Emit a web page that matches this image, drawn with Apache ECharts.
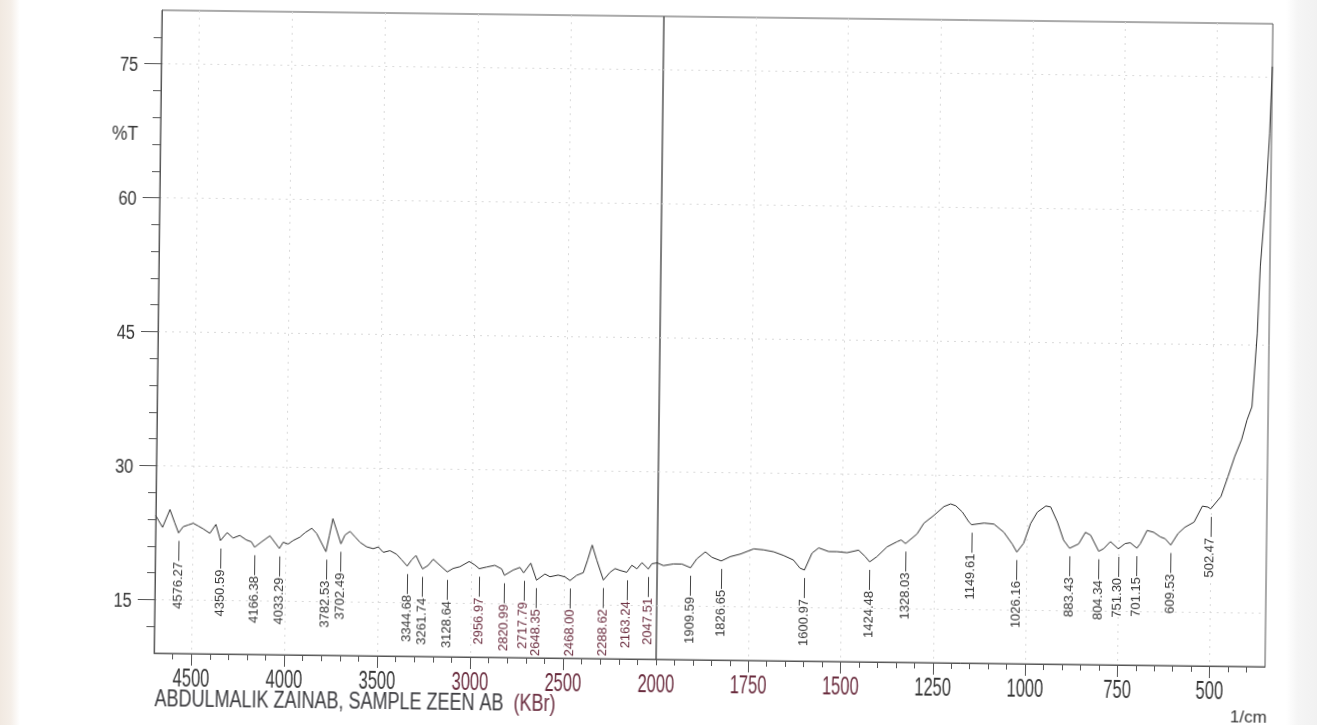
<!DOCTYPE html>
<html>
<head>
<meta charset="utf-8">
<title>FTIR spectrum</title>
<script src="https://cdn.jsdelivr.net/npm/echarts@6/dist/echarts.min.js"></script>
<style>
  html, body {
    margin: 0; padding: 0; width: 1317px; height: 725px; overflow: hidden;
    background: linear-gradient(to right, #f1e9e1 0px, #f5efe9 11px, #ffffff 20px, #ffffff 1286px, #f5f5f5 1298px, #f1f1f1 1317px);
  }
  /* the printed sheet sits slightly askew on the scanner bed */
  #chart {
    position: absolute; left: 0; top: 0; width: 1317px; height: 725px;
    transform: rotate(0.7deg); transform-origin: 714.5px 338px;
  }
</style>
</head>
<body>
<div id="chart"></div>
<script>
// Spectrum: wavenumber (1/cm) and transmittance (%T), high to low wavenumber
const wavenumber = [
  4700, 4663, 4624, 4597, 4576.27, 4552, 4525, 4498, 4471, 4445, 4408, 4376, 4350.59,
  4315, 4283, 4247, 4211, 4184, 4166.38, 4130, 4085, 4033.29, 4013, 3986, 3960, 3923,
  3896, 3860, 3833, 3782.53, 3765, 3747, 3726, 3702.49, 3681, 3654, 3627, 3600, 3564,
  3528, 3501, 3474, 3438, 3402, 3375, 3344.68, 3321, 3298, 3277, 3261.74, 3232, 3205,
  3178, 3151, 3128.64, 3097, 3061, 3011, 2980, 2956.97, 2917, 2873, 2836, 2820.99,
  2774, 2738, 2717.79, 2680, 2648.35, 2603, 2576, 2532, 2495, 2468, 2432, 2397, 2375,
  2351, 2325, 2288.62, 2252, 2226, 2199, 2163.24, 2136, 2109, 2082, 2047.51, 2028, 2000,
  1983, 1956, 1933, 1909.59, 1893, 1870, 1852, 1826.65, 1802, 1775, 1739, 1712, 1685,
  1658, 1631, 1613, 1600.97, 1581, 1563, 1536, 1513, 1486, 1455, 1437, 1424.48, 1405,
  1378, 1351, 1340, 1328.03, 1297, 1279, 1252, 1225, 1207, 1193, 1175, 1157, 1149.61,
  1116, 1089, 1062, 1039, 1026.16, 1008, 990, 972, 949, 936, 917, 900, 883.43, 859, 841,
  827, 804.34, 791, 773, 751.3, 733, 719, 701.15, 692, 674, 656, 638, 625, 609.53, 590,
  572, 547, 525, 510, 502.47, 475, 457, 439, 421, 407, 394, 382, 376, 364, 355, 350
];
const percentT = [
  24.4, 23.1, 25.1, 23.6, 22.5, 23.2, 23.4, 23.6, 23.3, 23.0, 22.5, 23.5, 21.7,
  22.6, 22.0, 22.3, 21.8, 21.6, 21.0, 21.6, 22.3, 20.9, 21.6, 21.4, 21.8, 22.2,
  22.7, 23.2, 22.6, 20.6, 22.4, 24.3, 23.0, 21.5, 22.5, 22.9, 22.3, 21.7, 21.2,
  21.0, 21.2, 20.6, 20.8, 20.4, 19.8, 19.1, 19.8, 20.3, 19.4, 18.8, 19.2, 19.9,
  19.4, 18.9, 18.5, 18.9, 19.1, 19.7, 19.3, 18.9, 19.1, 19.3, 18.9, 18.2,
  18.8, 19.1, 18.5, 19.6, 17.7, 18.4, 18.1, 18.3, 18.1, 17.7, 18.3, 18.6, 20.0,
  21.7, 20.0, 17.8, 18.7, 19.1, 18.9, 18.7, 19.5, 19.1, 19.8, 19.1, 19.7, 19.8,
  19.5, 19.7, 19.7, 19.3, 20.3, 21.1, 20.5, 20.1, 20.6, 20.9, 21.5, 21.4, 21.2,
  20.8, 20.3, 19.4, 19.2, 21.1, 21.7, 21.3, 21.3, 21.2, 21.5, 20.8, 20.2, 20.8,
  21.9, 22.5, 22.7, 22.3, 23.4, 24.6, 25.5, 26.5, 26.8, 26.6, 25.9, 24.8, 24.5,
  24.7, 24.6, 23.7, 22.4, 21.5, 22.5, 24.7, 26.0, 26.7, 26.6, 24.9, 22.9, 22.0, 22.5, 23.8,
  23.5, 21.7, 22.0, 22.8, 22.0, 22.6, 22.7, 22.1, 22.6, 24.1, 23.9, 23.4, 23.2, 22.5, 23.8,
  24.5, 25.1, 26.9, 26.8, 26.6, 28.0, 30.2, 32.5, 34.4, 36.6, 38.1, 46.3, 53.8, 61.2, 68.7, 76.2
];

// Peak picks printed under the trace
const peakLabels = [
  '4576.27', '4350.59', '4166.38', '4033.29', '3782.53', '3702.49', '3344.68', '3261.74',
  '3128.64', '2956.97', '2820.99', '2717.79', '2648.35', '2468.00', '2288.62', '2163.24',
  '2047.51', '1909.59', '1826.65', '1600.97', '1424.48', '1328.03', '1149.61', '1026.16',
  '883.43', '804.34', '751.30', '701.15', '609.53', '502.47'
];

// Axis labels: the scale changes from 500 to 250 per division at 2000 1/cm
const leftAxisLabels = [2000, 2500, 3000, 3500, 4000, 4500];
const rightAxisLabels = [500, 750, 1000, 1250, 1500, 1750];
const yAxisLabels = [15, 30, 45, 60, 75];

const sampleName = 'ABDULMALIK ZAINAB, SAMPLE ZEEN AB';
const matrixName = '(KBr)';
const yUnit = '%T';
const xUnit = '1/cm';

// ---- layout and styling ----
const WN_MAX = 4700, WN_SPLIT = 2000, WN_MIN = 350;
const T_MIN = 9, T_MAX = 81;
const GRID_TOP = 17, GRID_H = 643;
const LEFT_X = 158, SPLIT_X = 660, RIGHT_X = 1269;

const PLAIN = '"Liberation Sans", Arial, sans-serif';
const INK = '#353535';
const MAROON = '#6a2c3e';
const AXIS = '#555555';
const TRACE = '#2e2e2e';
const FAINT = '#dadada';
// the plotter's lettering is tall and narrow
const TALL_X = 1.55, TALL_Y = 1.28;

function steps(from, to, step, skip) {
  const out = [];
  for (let v = from; v <= to + 1e-9; v += step) if (!skip(v)) out.push(v);
  return out;
}
const leftMinor = steps(2000, 4600, 100, v => v % 500 === 0 && v !== 2000);
const leftMajor = leftAxisLabels.filter(v => v !== WN_SPLIT);
const rightMinor = steps(400, 1950, 50, v => v % 250 === 0);
const yMinor = steps(12, 78, 3, v => v % 15 === 0);

const midBand = v => v <= 3000 && v >= 1500;
const peakInk = w => (w >= 2000 && w <= 2960) ? MAROON : INK;

const points = wavenumber.map((w, i) => [w, percentT[i]]);
const leftPts = points.filter(p => p[0] >= WN_SPLIT);
const rightPts = points.filter(p => p[0] <= WN_SPLIT);

const peakItems = peakLabels.map((s, i) => {
  const w = parseFloat(s);
  const k = wavenumber.findIndex(x => Math.abs(x - w) < 1e-6);
  return [w, percentT[k], i];
});
const leftPeaks = peakItems.filter(p => p[0] > WN_SPLIT);
const rightPeaks = peakItems.filter(p => p[0] < WN_SPLIT);

function xAxes(gridIndex, min, max, minor, major) {
  const base = { type: 'value', gridIndex, min, max, inverse: true, position: 'bottom' };
  return [
    Object.assign({}, base, {
      axisLine: { show: true, onZero: false, lineStyle: { color: AXIS, width: 1 } },
      axisTick: { show: true, customValues: minor, length: 6, lineStyle: { color: AXIS } },
      axisLabel: { show: false },
      splitLine: { show: false }
    }),
    Object.assign({}, base, {
      axisLine: { show: false, onZero: false },
      axisTick: { show: true, customValues: major, length: 12, lineStyle: { color: AXIS } },
      axisLabel: { show: false },
      splitLine: { show: true, lineStyle: { color: FAINT, type: [2, 5], width: 1 } }
    })
  ];
}

const yBase = { type: 'value', min: T_MIN, max: T_MAX, position: 'left' };
const yAxes = [
  Object.assign({}, yBase, {
    gridIndex: 0,
    axisLine: { show: true, onZero: false, lineStyle: { color: AXIS, width: 1 } },
    axisTick: { show: true, customValues: yMinor, length: 8, lineStyle: { color: AXIS } },
    axisLabel: { show: false },
    splitLine: { show: false }
  }),
  Object.assign({}, yBase, {
    gridIndex: 0,
    axisLine: { show: false, onZero: false },
    axisTick: { show: true, customValues: yAxisLabels, length: 17, lineStyle: { color: AXIS } },
    axisLabel: { show: false },
    splitLine: { show: true, lineStyle: { color: FAINT, type: [2, 5], width: 1 } }
  }),
  Object.assign({}, yBase, {
    gridIndex: 1,
    axisLine: { show: false, onZero: false },
    axisTick: { show: false, customValues: yAxisLabels },
    axisLabel: { show: false },
    splitLine: { show: true, lineStyle: { color: FAINT, type: [2, 5], width: 1 } }
  })
];

function traceSeries(xi, yi, data) {
  return {
    type: 'line', xAxisIndex: xi, yAxisIndex: yi, data,
    symbol: 'none', showSymbol: false, silent: true, z: 3,
    lineStyle: { color: TRACE, width: 1 }
  };
}

// leader line below each picked band, then the wavenumber printed upright
function peakSeries(xi, yi, data) {
  return {
    type: 'custom', xAxisIndex: xi, yAxisIndex: yi, data, clip: false, silent: true, z: 4,
    renderItem: (params, api) => {
      const w = api.value(0);
      const p = api.coord([w, api.value(1)]);
      const x = Math.round(p[0]) + 0.5;
      const y0 = p[1] + 8;
      const y1 = p[1] + 28;
      return {
        type: 'group',
        children: [
          { type: 'line', shape: { x1: x, y1: y0, x2: x, y2: y1 }, style: { stroke: '#444', lineWidth: 1 } },
          {
            type: 'text', x: p[0], y: y1 + 1, rotation: Math.PI / 2,
            style: {
              text: peakLabels[api.value(2)], fill: peakInk(w),
              font: '13px ' + PLAIN, align: 'right', verticalAlign: 'middle'
            }
          }
        ]
      };
    }
  };
}

// wavenumber tick labels, placed through the x scale below the axis
function xLabelSeries(xi, yi, values) {
  return {
    type: 'custom', xAxisIndex: xi, yAxisIndex: yi, clip: false, silent: true, z: 4,
    data: values.map(v => [v, T_MIN]),
    renderItem: (params, api) => {
      const v = api.value(0);
      const p = api.coord([v, api.value(1)]);
      return {
        type: 'text', x: p[0], y: p[1] + 26, scaleY: TALL_X,
        style: { text: String(v), fill: midBand(v) ? MAROON : INK, font: '16.5px ' + PLAIN, align: 'center', verticalAlign: 'middle' }
      };
    }
  };
}

// %T tick labels, placed through the y scale left of the axis
function yLabelSeries(values) {
  return {
    type: 'custom', xAxisIndex: 0, yAxisIndex: 0, clip: false, silent: true, z: 4,
    data: values.map(v => [WN_MAX, v]),
    renderItem: (params, api) => {
      const p = api.coord([api.value(0), api.value(1)]);
      return {
        type: 'text', x: p[0] - 23, y: p[1] + 1.5, scaleY: TALL_Y,
        style: { text: String(api.value(1)), fill: INK, font: '16.5px ' + PLAIN, align: 'right', verticalAlign: 'middle' }
      };
    }
  };
}

const chart = echarts.init(document.getElementById('chart'), null, { renderer: 'canvas', width: 1317, height: 725 });

chart.setOption({
  animation: false,
  backgroundColor: 'transparent',
  grid: [
    { left: LEFT_X, top: GRID_TOP, width: SPLIT_X - LEFT_X, height: GRID_H, show: true, borderColor: AXIS, borderWidth: 1, containLabel: false },
    { left: SPLIT_X, top: GRID_TOP, width: RIGHT_X - SPLIT_X, height: GRID_H, show: true, borderColor: AXIS, borderWidth: 1, containLabel: false }
  ],
  xAxis: [].concat(
    xAxes(0, WN_SPLIT, WN_MAX, leftMinor, leftMajor),
    xAxes(1, WN_MIN, WN_SPLIT, rightMinor, rightAxisLabels)
  ),
  yAxis: yAxes,
  series: [
    traceSeries(0, 0, leftPts),
    traceSeries(2, 2, rightPts),
    peakSeries(0, 0, leftPeaks),
    peakSeries(2, 2, rightPeaks),
    xLabelSeries(0, 0, leftAxisLabels),
    xLabelSeries(2, 2, rightAxisLabels),
    yLabelSeries(yAxisLabels)
  ],
  graphic: [
    { type: 'text', x: 109.5, y: 141, scaleY: 1.2, silent: true,
      style: { text: yUnit, fill: INK, font: '17.5px ' + PLAIN, verticalAlign: 'middle' } },
    { type: 'text', x: 159, y: 707, scaleY: 1.3, silent: true,
      style: { text: sampleName, fill: '#3a3a3e', font: '18px ' + PLAIN, verticalAlign: 'middle' } },
    { type: 'text', x: 518, y: 707, scaleY: 1.3, silent: true,
      style: { text: matrixName, fill: MAROON, font: '18px ' + PLAIN, verticalAlign: 'middle' } },
    { type: 'text', x: 1234.5, y: 711, silent: true,
      style: { text: xUnit, fill: INK, font: '17px ' + PLAIN, verticalAlign: 'middle' } }
  ]
});
</script>
</body>
</html>
